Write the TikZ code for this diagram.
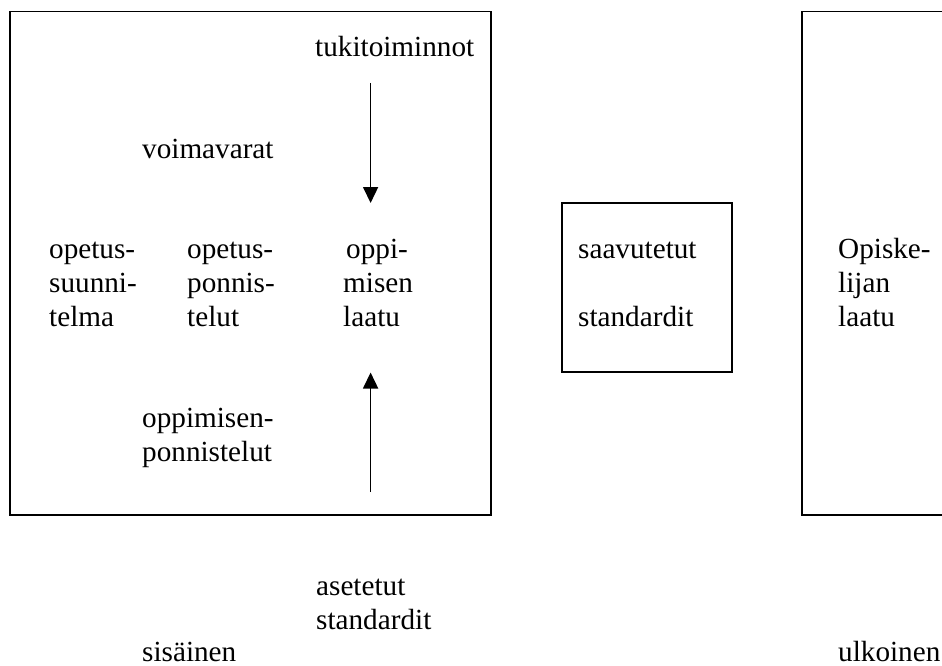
\documentclass[tikz,border=0pt]{standalone}
\usepackage{fontspec}
\setmainfont{Liberation Serif}
\usepackage{tikz}
\usetikzlibrary{arrows.meta, positioning}

\begin{document}
\begin{tikzpicture}[
    x=1pt, y=-1pt,
    >={Triangle[length=16pt, width=15pt]},
    arr/.style={->, line width=1.6pt},
    frame/.style={draw, line width=1.9pt},
    txt/.style={font=\fontsize{29.2}{34}\selectfont, inner sep=0pt, anchor=base west, align=left},
]
\clip (0,0) rectangle (942,666);
% === Frames ===
\draw[frame] (10,11.5) rectangle (491,515);
\draw[frame] (562,203) rectangle (732,372);
\draw[frame] (802,11.5) rectangle (980,515);
% === Inner texts (anchored at last line) ===
\node[txt] (tuki) at (315,57) {tukitoiminnot};
\node[txt] (voima) at (142,158) {voimavarat};
\node[txt] (suunn) at (49,326) {opetus-\\suunni-\\telma};
\node[txt] (openp) at (187,326) {opetus-\\ponnis-\\telut};
\node[txt] (oplaatu) at (343,326) {\hspace{3pt}oppi-\\misen\\laatu};
\node[txt] (oppinp) at (142,461) {oppimisen-\\ponnistelut};
% === Arrows ===
\coordinate (down0) at (370.6,83);
\coordinate (down1) at (370.6,203);
\coordinate (up0) at (370.6,492);
\coordinate (up1) at (370.6,372.5);
\draw[arr] (down0) -- (down1);
\draw[arr] (up0) -- (up1);
% === Standards and student ===
\node[txt] (saav) at (578,326) {saavutetut\\[34pt]standardit};
\node[txt] (opisk) at (838,326) {Opiske-\\lijan\\laatu};
\node[txt] (aset) at (316,629) {asetetut\\standardit};
\node[txt] (sis) at (142,661) {sisäinen};
\node[txt] (ulk) at (838,661) {ulkoinen};
\end{tikzpicture}
\end{document}
